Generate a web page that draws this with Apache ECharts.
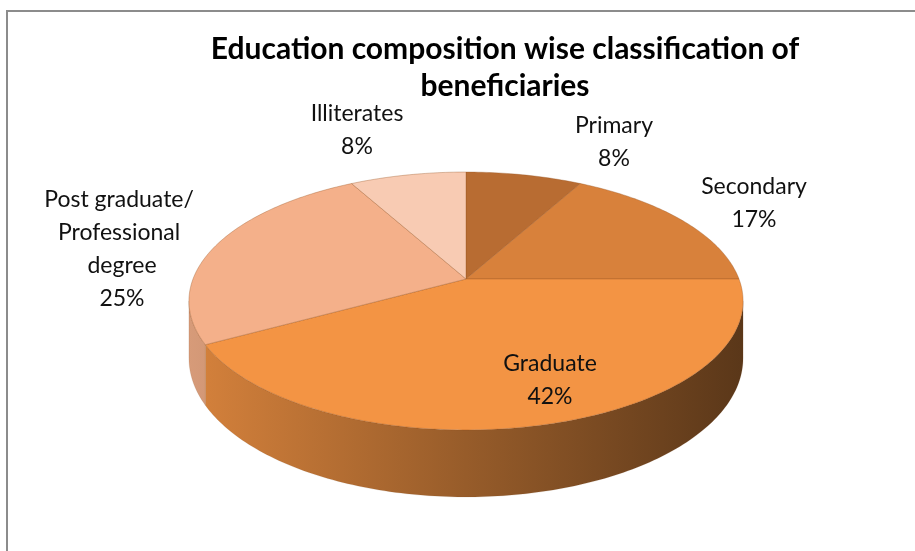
<!DOCTYPE html>
<html>
<head>
<meta charset="utf-8">
<script src="https://cdn.jsdelivr.net/npm/echarts@6/dist/echarts.min.js"></script>
<style>
html,body{margin:0;padding:0;background:#fff;}
#chart{width:915px;height:551px;}
</style>
</head>
<body>
<div id="chart"></div>
<script>
// ---- data ----
const TITLE = 'Education composition wise classification of\nbeneficiaries';
const CATEGORIES = ['Primary', 'Secondary', 'Graduate', 'Post graduate/ Professional degree', 'Illiterates'];
const VALUES = [8, 17, 42, 25, 8];

// ---- styling / layout (not data) ----
const COLORS = ['#B86C32', '#D8813B', '#F39444', '#F4B08A', '#F8CBB3'];
const LABEL_POS = [[614, 142], [754, 203], [550, 380], [122, 249], [357, 130]];
const GEO = { cx: 466, cy: 279, r: 273, b: 125.2, k: 0.1705, h: 55.6 };

const total = VALUES.reduce((a, b) => a + b, 0);
const startFrac = [];
VALUES.reduce((acc, v, i) => { startFrac[i] = acc; return acc + v; }, 0);

function proj(theta, depth) {
  const x = Math.sin(theta), z = -Math.cos(theta);
  const s = 1 / (1 - GEO.k * z);
  return [GEO.cx + GEO.r * x * s, GEO.cy + GEO.b * z * s + (depth ? GEO.h * s : 0)];
}
function shade(hex, f) {
  const n = parseInt(hex.slice(1), 16);
  const r = Math.round(((n >> 16) & 255) * f), g = Math.round(((n >> 8) & 255) * f), b = Math.round((n & 255) * f);
  return 'rgb(' + r + ',' + g + ',' + b + ')';
}
function arcPts(a0, a1, depth) {
  const pts = [];
  const n = Math.max(2, Math.ceil((a1 - a0) / (Math.PI / 180)));
  for (let i = 0; i <= n; i++) pts.push(proj(a0 + (a1 - a0) * i / n, depth));
  return pts;
}

const silL = Math.acos(-GEO.k);          // right silhouette angle
const silR = 2 * Math.PI - silL;         // left silhouette angle

function renderItem(params, api) {
  const i = params.dataIndex;
  const v = api.value(0);
  const a0 = startFrac[i] / total * 2 * Math.PI;
  const a1 = (startFrac[i] + v) / total * 2 * Math.PI;
  const col = COLORS[i];
  const children = [];
  // outer wall (front visible part only)
  const w0 = Math.max(a0, silL), w1 = Math.min(a1, silR);
  if (w1 > w0) {
    const top = arcPts(w0, w1, false);
    const bot = arcPts(w0, w1, true).reverse();
    children.push({
      type: 'polygon',
      z2: 1,
      shape: { points: top.concat(bot) },
      style: {
        fill: {
          type: 'linear', x: GEO.cx - GEO.r * 1.02, y: 0, x2: GEO.cx + GEO.r * 1.02, y2: 0, global: true,
          colorStops: [
            { offset: 0, color: shade(col, 0.88) },
            { offset: 0.5, color: shade(col, 0.62) },
            { offset: 1, color: shade(col, 0.37) }
          ]
        },
        stroke: 'rgba(120,70,30,0.25)', lineWidth: 0.5
      }
    });
  }
  // top face
  const face = [[GEO.cx, GEO.cy]].concat(arcPts(a0, a1, false));
  children.push({
    type: 'polygon',
    z2: 10,
    shape: { points: face },
    style: { fill: col, stroke: 'rgba(150,85,35,0.45)', lineWidth: 0.8 }
  });
  // label
  const pct = Math.round(v / total * 100);
  children.push({
    type: 'text',
    z2: 20,
    x: LABEL_POS[i][0], y: LABEL_POS[i][1],
    style: {
      text: CATEGORIES[i] + '\n' + pct + '%',
      width: 175, overflow: 'break',
      font: '23px Lato',
      lineHeight: 33,
      fill: '#111',
      align: 'center', verticalAlign: 'middle'
    }
  });
  return { type: 'group', children: children };
}

const chart = echarts.init(document.getElementById('chart'), null, { renderer: 'canvas' });
chart.setOption({
  animation: false,
  backgroundColor: '#fff',
  title: {
    text: TITLE,
    left: 500, top: 26, textAlign: 'center',
    textStyle: { fontFamily: 'Lato', fontWeight: 'bold', fontSize: 30, lineHeight: 37, color: '#000' }
  },
  graphic: [{
    type: 'rect', shape: { x: 7, y: 11, width: 1000, height: 1000 },
    style: { fill: 'none', stroke: '#8c8c8c', lineWidth: 2 }, silent: true
  }],
  series: [{
    type: 'custom',
    coordinateSystem: 'none',
    renderItem: renderItem,
    data: VALUES.map((v, i) => ({ name: CATEGORIES[i], value: [v] }))
  }]
});
</script>
</body>
</html>
